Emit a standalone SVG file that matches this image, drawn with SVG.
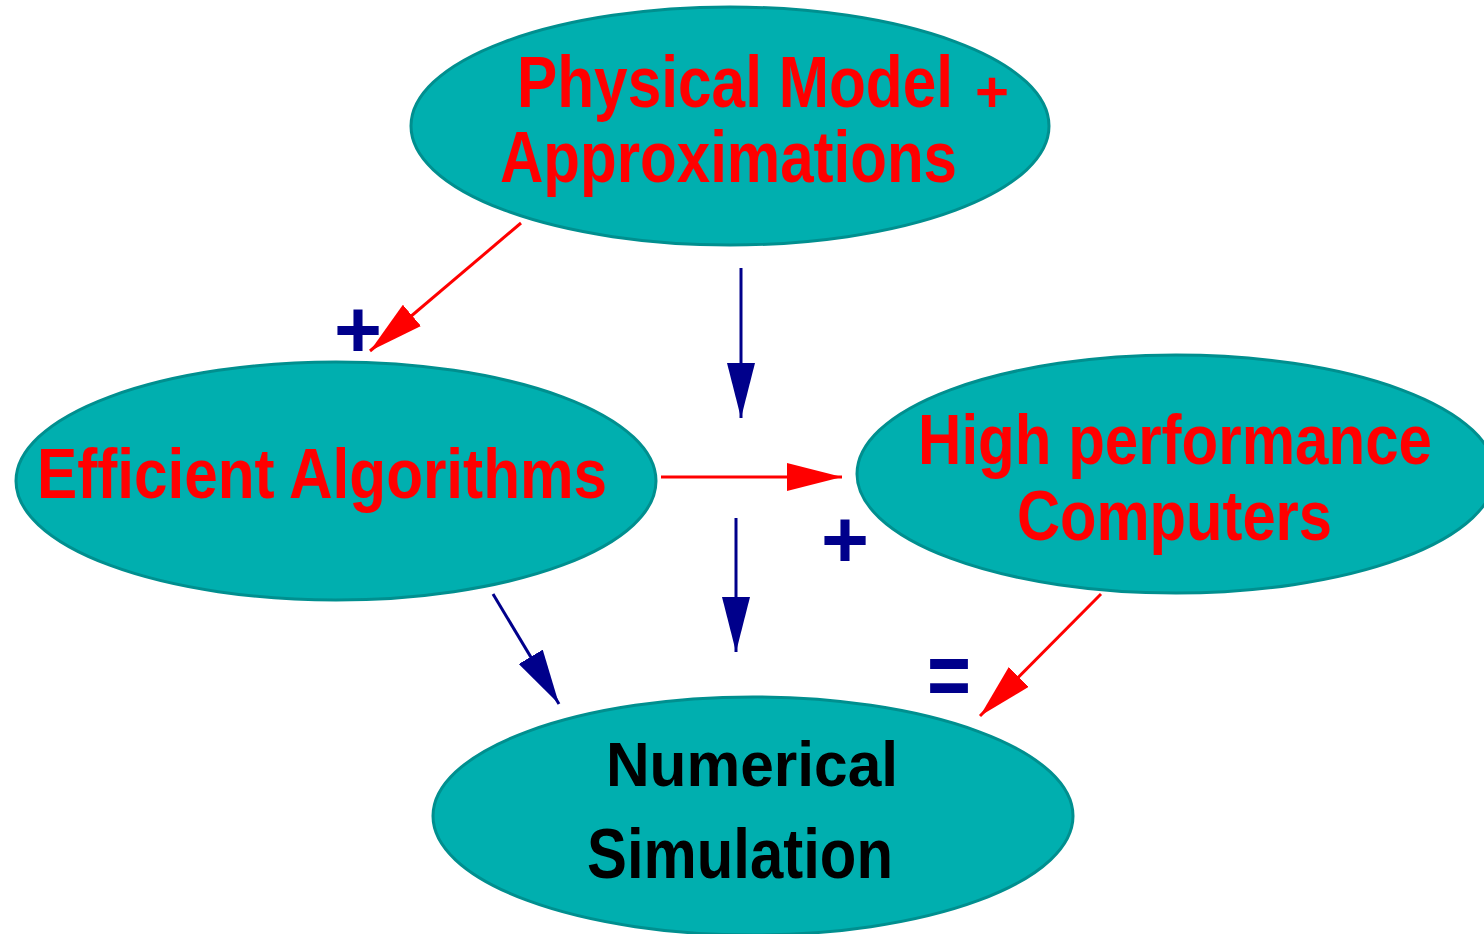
<svg xmlns="http://www.w3.org/2000/svg" width="1484" height="934" viewBox="0 0 1484 934">
<style>
.node{fill:#00AFAF;stroke:#008F8F;stroke-width:3}
.t{font-family:"Liberation Sans",Arial,sans-serif;font-weight:bold}
.red{fill:#FF0000}
.blk{fill:#000000}
.sign{fill:#00008B;font-family:"Liberation Sans",Arial,sans-serif;font-weight:bold}
.cr{stroke:#FF0000;stroke-width:3;fill:none}
.cb{stroke:#00008B;stroke-width:3;fill:none}
</style>
<defs>
<marker id="ar" markerUnits="userSpaceOnUse" markerWidth="56" markerHeight="28" refX="55" refY="14" orient="auto"><path d="M0,0 L55,14 L0,28 z" fill="#FF0000"/></marker>
<marker id="ab" markerUnits="userSpaceOnUse" markerWidth="56" markerHeight="28" refX="55" refY="14" orient="auto"><path d="M0,0 L55,14 L0,28 z" fill="#00008B"/></marker>
</defs>
<rect width="1484" height="934" fill="#FFFFFF"/>
<g id="n-physical">
<ellipse class="node" cx="730" cy="126" rx="319" ry="119"/>
<text class="t red" font-size="72"><tspan x="517" y="107" textLength="436" lengthAdjust="spacingAndGlyphs">Physical Model</tspan><tspan x="975" y="112" font-size="58" textLength="34" lengthAdjust="spacingAndGlyphs">+</tspan></text>
<text class="t red" x="500" y="182" font-size="72" textLength="457" lengthAdjust="spacingAndGlyphs">Approximations</text>
</g>
<g id="n-algorithms">
<ellipse class="node" cx="336" cy="481" rx="320" ry="119"/>
<text class="t red" x="37" y="498" font-size="71" textLength="570" lengthAdjust="spacingAndGlyphs">Efficient Algorithms</text>
</g>
<g id="n-computers">
<ellipse class="node" cx="1176" cy="474" rx="319" ry="119"/>
<text class="t red" x="918" y="464" font-size="71" textLength="514" lengthAdjust="spacingAndGlyphs">High performance</text>
<text class="t red" x="1017" y="540" font-size="71" textLength="315" lengthAdjust="spacingAndGlyphs">Computers</text>
</g>
<g id="n-simulation">
<ellipse class="node" cx="753" cy="816" rx="320" ry="119"/>
<text class="t blk" x="606" y="786" font-size="63" textLength="292" lengthAdjust="spacingAndGlyphs">Numerical</text>
<text class="t blk" x="587" y="878" font-size="71" textLength="306" lengthAdjust="spacingAndGlyphs">Simulation</text>
</g>
<g id="connectors">
<line class="cr" x1="521" y1="223" x2="370" y2="351" marker-end="url(#ar)"/>
<line class="cb" x1="741" y1="268" x2="741" y2="418" marker-end="url(#ab)"/>
<line class="cr" x1="661" y1="477" x2="842" y2="477" marker-end="url(#ar)"/>
<line class="cb" x1="736" y1="518" x2="736" y2="652" marker-end="url(#ab)"/>
<line class="cb" x1="493" y1="594" x2="559" y2="704" marker-end="url(#ab)"/>
<line class="cr" x1="1101" y1="594" x2="980" y2="716" marker-end="url(#ar)"/>
</g>
<g id="signs">
<text class="sign" x="334" y="357" font-size="82" textLength="48" lengthAdjust="spacingAndGlyphs">+</text>
<text class="sign" x="821" y="567" font-size="82" textLength="48" lengthAdjust="spacingAndGlyphs">+</text>
<text class="sign" x="927" y="706" font-size="90" textLength="44" lengthAdjust="spacingAndGlyphs">=</text>
</g>
</svg>
